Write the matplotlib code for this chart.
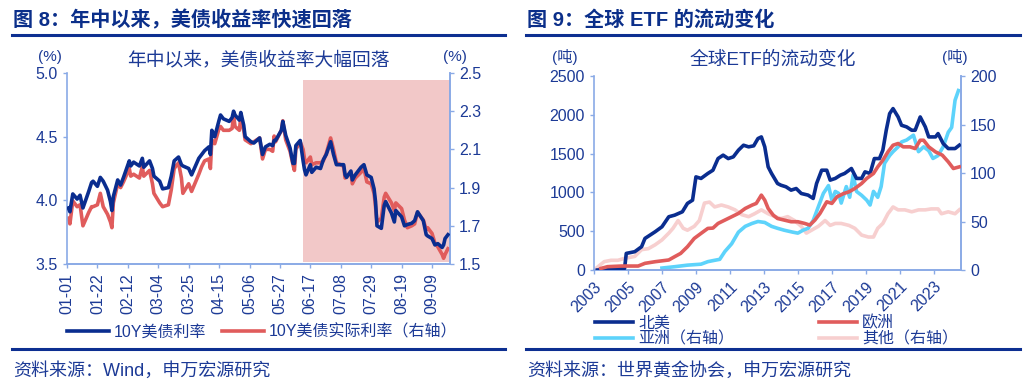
import numpy as np
import pandas as pd
import matplotlib
matplotlib.use("Agg")
import matplotlib.pyplot as plt
import matplotlib.dates as mdates

plt.rcParams['font.family'] = ['Liberation Sans', 'Noto Sans CJK SC']
plt.rcParams['axes.unicode_minus'] = False

# ---------------- data: figure 8 (2024 daily, sampled) ----------------
dates_8 = ['01-02', '01-03', '01-05', '01-08', '01-10', '01-12', '01-16', '01-18', '01-19', '01-22',
           '01-24', '01-26', '01-29', '01-31', '02-01', '02-02', '02-05', '02-07', '02-09', '02-13',
           '02-14', '02-16', '02-20', '02-22', '02-23', '02-27', '02-29', '03-01', '03-05', '03-07',
           '03-11', '03-13', '03-15', '03-18', '03-20', '03-21', '03-25', '03-27', '04-01', '04-03',
           '04-05', '04-08', '04-09', '04-10', '04-12', '04-15', '04-16', '04-18', '04-22', '04-24',
           '04-25', '04-26', '04-29', '04-30', '05-02', '05-03', '05-07', '05-09', '05-13', '05-15',
           '05-17', '05-20', '05-22', '05-23', '05-24', '05-28', '05-29', '05-31', '06-03', '06-05',
           '06-06', '06-07', '06-10', '06-12', '06-13', '06-14', '06-17', '06-18', '06-21', '06-24',
           '06-26', '06-28', '07-01', '07-03', '07-05', '07-08', '07-10', '07-11', '07-12', '07-15',
           '07-16', '07-18', '07-22', '07-24', '07-26', '07-29', '07-31', '08-01', '08-02', '08-05',
           '08-07', '08-08', '08-12', '08-14', '08-15', '08-19', '08-21', '08-23', '08-26', '08-28',
           '08-30', '09-03', '09-05', '09-06', '09-09', '09-11', '09-13', '09-16', '09-17', '09-18',
           '09-20']
ust10y = [3.94, 3.91, 4.05, 4.01, 4.04, 3.94, 4.07, 4.14, 4.15, 4.11,
          4.18, 4.15, 4.08, 3.99, 3.92, 4.03, 4.16, 4.12, 4.18, 4.31,
          4.27, 4.30, 4.27, 4.33, 4.26, 4.31, 4.25, 4.19, 4.15, 4.09,
          4.10, 4.19, 4.31, 4.34, 4.28, 4.27, 4.25, 4.20, 4.33, 4.36,
          4.39, 4.42, 4.36, 4.55, 4.50, 4.63, 4.67, 4.64, 4.62, 4.65,
          4.70, 4.67, 4.63, 4.69, 4.59, 4.50, 4.46, 4.45, 4.49, 4.36,
          4.42, 4.44, 4.43, 4.47, 4.47, 4.55, 4.62, 4.51, 4.41, 4.29,
          4.29, 4.43, 4.47, 4.31, 4.24, 4.20, 4.28, 4.22, 4.26, 4.25,
          4.32, 4.36, 4.46, 4.36, 4.28, 4.28, 4.28, 4.20, 4.18, 4.23,
          4.16, 4.20, 4.26, 4.28, 4.20, 4.18, 4.09, 3.99, 3.80, 3.78,
          3.96, 3.99, 3.90, 3.83, 3.92, 3.87, 3.80, 3.81, 3.82, 3.84,
          3.91, 3.84, 3.73, 3.72, 3.70, 3.65, 3.66, 3.63, 3.65, 3.70,
          3.73]
real10y = [1.74, 1.71, 1.83, 1.80, 1.81, 1.70, 1.77, 1.80, 1.80, 1.81,
           1.87, 1.80, 1.76, 1.72, 1.69, 1.82, 1.92, 1.90, 1.93, 2.00,
           1.96, 1.97, 1.95, 2.01, 1.96, 1.99, 1.92, 1.87, 1.82, 1.80,
           1.81, 1.89, 2.00, 2.03, 1.95, 1.87, 1.92, 1.88, 1.97, 2.01,
           2.04, 2.05, 2.00, 2.15, 2.13, 2.21, 2.22, 2.20, 2.20, 2.21,
           2.28, 2.22, 2.20, 2.27, 2.20, 2.15, 2.13, 2.14, 2.16, 2.05,
           2.10, 2.10, 2.09, 2.17, 2.14, 2.20, 2.25, 2.15, 2.09, 2.02,
           1.99, 2.10, 2.14, 2.10, 2.05, 2.03, 2.06, 2.02, 2.03, 2.03,
           2.04, 2.08, 2.16, 2.10, 2.03, 2.02, 2.01, 1.95, 1.96, 1.98,
           1.92, 1.95, 1.98, 2.00, 1.93, 1.92, 1.87, 1.80, 1.72, 1.74,
           1.85, 1.87, 1.82, 1.78, 1.82, 1.79, 1.73, 1.69, 1.70, 1.71,
           1.77, 1.73, 1.68, 1.69, 1.66, 1.61, 1.59, 1.55, 1.53, 1.55,
           1.58]
shade_start_8 = '2024-06-12'

# ---------------- data: figure 9 (tonnes) ----------------
yr_na = [2003.2, 2004.8, 2004.9, 2005.4, 2005.8, 2006.0, 2006.6, 2007.0, 2007.4, 2007.75,
         2008.2, 2008.5, 2008.8, 2009.0, 2009.3, 2009.7, 2010.0, 2010.3, 2010.6, 2010.9,
         2011.2, 2011.5, 2011.8, 2012.1, 2012.4, 2012.65, 2012.85, 2013.05, 2013.25, 2013.45,
         2013.8, 2014.0, 2014.3, 2014.6, 2014.9, 2015.2, 2015.6, 2015.9, 2016.1, 2016.4,
         2016.7, 2016.9, 2017.2, 2017.5, 2017.75, 2018.15, 2018.45, 2018.75, 2018.95, 2019.25,
         2019.5, 2019.8, 2020.0, 2020.2, 2020.4, 2020.6, 2020.9, 2021.1, 2021.4, 2021.7,
         2021.9, 2022.2, 2022.5, 2022.7, 2023.1, 2023.25, 2023.55, 2023.85, 2024.25, 2024.5]
north_america = [0, 20, 214, 236, 300, 407, 493, 557, 686, 707,
                 750, 858, 900, 1200, 1180, 1244, 1286, 1436, 1480, 1436,
                 1458, 1544, 1608, 1587, 1600, 1694, 1715, 1587, 1329, 1244,
                 1115, 1093, 1072, 1029, 1050, 986, 965, 922, 1115, 1286,
                 1286, 1158, 1180, 1222, 1244, 1308, 1180, 1180, 1265, 1244,
                 1436, 1436, 1544, 1801, 2015, 2080, 1972, 1865, 1844, 1801,
                 1801, 1972, 1844, 1715, 1715, 1758, 1630, 1565, 1565, 1608]

yr_eu = [2003.4, 2003.8, 2004.6, 2005.6, 2006.0, 2006.6, 2007.4, 2007.75, 2008.1, 2008.5,
         2008.9, 2009.3, 2009.7, 2010.0, 2010.3, 2010.7, 2011.1, 2011.5, 2011.9, 2012.3,
         2012.55, 2012.85, 2013.05, 2013.25, 2013.55, 2013.8, 2014.2, 2014.6, 2015.0, 2015.4,
         2015.7, 2016.0, 2016.3, 2016.7, 2017.0, 2017.3, 2017.7, 2018.0, 2018.35, 2018.75,
         2019.05, 2019.45, 2019.7, 2020.0, 2020.3, 2020.6, 2020.9, 2021.2, 2021.6, 2021.9,
         2022.2, 2022.4, 2022.7, 2023.1, 2023.5, 2023.85, 2024.15, 2024.5]
europe = [20, 43, 51, 51, 86, 107, 129, 172, 214, 300,
          407, 472, 536, 540, 600, 643, 686, 729, 793, 836,
          858, 965, 900, 793, 707, 664, 643, 622, 622, 600,
          579, 643, 729, 879, 858, 943, 986, 1007, 1050, 1115,
          1180, 1244, 1329, 1415, 1522, 1608, 1630, 1587, 1587, 1565,
          1672, 1672, 1587, 1522, 1480, 1394, 1308, 1329]

yr_asia = [2007.0, 2007.75, 2008.5, 2009.3, 2009.7, 2010.1, 2010.4, 2010.7, 2011.1, 2011.5,
           2011.9, 2012.3, 2012.65, 2013.05, 2013.45, 2013.8, 2014.2, 2014.7, 2015.0, 2015.3,
           2015.6, 2015.9, 2016.2, 2016.5, 2016.8, 2017.0, 2017.2, 2017.4, 2017.55, 2017.85,
           2018.05, 2018.25, 2018.45, 2018.75, 2019.05, 2019.25, 2019.45, 2019.7, 2019.9, 2020.1,
           2020.4, 2020.6, 2020.9, 2021.1, 2021.4, 2021.8, 2022.1, 2022.4, 2022.7, 2022.95,
           2023.25, 2023.55, 2023.85, 2024.05, 2024.25, 2024.45]
asia = [2, 3.4, 5, 6, 8.6, 10, 11, 19, 27, 39,
        45, 48, 50, 49, 45, 43, 41, 39, 38, 41,
        43, 51, 65, 79, 87, 72, 81, 79, 69, 86,
        75, 98, 81, 77, 72, 67, 81, 75, 86, 110,
        118, 122, 127, 132, 134, 139, 122, 127, 123, 115,
        118, 127, 142, 147, 175, 185]

yr_other = [2003.0, 2003.6, 2004.0, 2004.4, 2004.8, 2005.4, 2005.8, 2006.2, 2006.6, 2007.0,
            2007.4, 2007.65, 2007.95, 2008.25, 2008.5, 2008.9, 2009.2, 2009.5, 2009.8, 2010.1,
            2010.5, 2010.9, 2011.3, 2011.7, 2012.1, 2012.45, 2012.85, 2013.25, 2013.65, 2014.0,
            2014.4, 2014.8, 2015.2, 2015.5, 2015.8, 2016.2, 2016.6, 2016.9, 2017.2, 2017.55,
            2018.0, 2018.35, 2018.75, 2019.15, 2019.45, 2019.7, 2020.0, 2020.3, 2020.6, 2020.9,
            2021.3, 2021.7, 2022.1, 2022.5, 2022.85, 2023.25, 2023.45, 2023.85, 2024.25, 2024.5]
other = [0, 8.6, 10, 10, 12, 14, 21, 22, 26, 31,
         38, 43, 51, 43, 41, 45, 51, 69, 70, 65,
         67, 65, 62, 57, 55, 58, 62, 58, 55, 53,
         55, 51, 45, 38, 41, 45, 51, 46, 48, 48,
         46, 43, 36, 34, 34, 43, 48, 58, 65, 62,
         62, 60, 62, 62, 63, 63, 58, 60, 58, 62]

# ---------------- style ----------------
NAVY = '#0a2d8f'
RED = '#e05c5c'
LBLUE = '#5dd3fb'
PINK = '#f7cfcf'
SHADE = '#f2c8c8'
SPINE = '#8aaae6'
TXT = '#1c3a96'
W, H = 1030, 392

fig = plt.figure(figsize=(W / 100, H / 100), dpi=100)


def px_axes(x0, y0, x1, y1):
    return fig.add_axes([x0 / W, 1 - y1 / H, (x1 - x0) / W, (y1 - y0) / H])


def style(ax, ax2):
    for a in (ax, ax2):
        a.spines['top'].set_visible(False)
        for s in ('left', 'right', 'bottom'):
            a.spines[s].set_color(SPINE)
            a.spines[s].set_linewidth(1.2)
        a.tick_params(colors=SPINE, labelcolor=TXT, labelsize=11.5, length=3, width=1.0)
    ax2.spines['left'].set_visible(False)


def fig_px(x, y):
    return x / W, 1 - y / H


# header / footer rules and texts
for x0, x1, title, src in [(12, 505, '图 8：年中以来，美债收益率快速回落', '资料来源：Wind，申万宏源研究'),
                           (526, 1020, '图 9：全球 ETF 的流动变化', '资料来源：世界黄金协会，申万宏源研究')]:
    fig.add_artist(plt.Line2D([x0 / W, x1 / W], [1 - 35 / H] * 2, color='#0d2f91', lw=2.2))
    fig.add_artist(plt.Line2D([x0 / W, x1 / W], [1 - 349 / H] * 2, color='#0d2f91', lw=2.2))
    fig.text(*fig_px(x0 + 1, 20), title, fontsize=14.5, fontweight='bold', color='#0b2f8a', va='center')
    fig.text(*fig_px(x0 + 1, 371), src, fontsize=13, color=TXT, va='center')

# ---------------- figure 8 ----------------
ax = px_axes(67, 73, 450, 264)
ax2 = ax.twinx()
d8 = pd.to_datetime(['2024-' + d for d in dates_8])
ax2.axvspan(pd.Timestamp(shade_start_8), pd.Timestamp('2024-09-22'), ymin=0.01, ymax=0.963,
            color=SHADE, lw=0, zorder=0)
l1, = ax.plot(d8, ust10y, color=NAVY, lw=2.6, label='10Y美债利率', zorder=3)
l2, = ax2.plot(d8, real10y, color=RED, lw=2.6, label='10Y美债实际利率（右轴）', zorder=4)
ax.set_zorder(ax2.get_zorder() + 1)
ax.patch.set_visible(False)
ax.set_ylim(3.5, 5.0)
ax.set_yticks([3.5, 4.0, 4.5, 5.0])
ax.yaxis.set_major_formatter(matplotlib.ticker.FormatStrFormatter('%.1f'))
ax2.set_ylim(1.5, 2.5)
ax2.set_yticks([1.5, 1.7, 1.9, 2.1, 2.3, 2.5])
ax2.yaxis.set_major_formatter(matplotlib.ticker.FormatStrFormatter('%.1f'))
ax.set_xlim(pd.Timestamp('2024-01-01'), pd.Timestamp('2024-09-21 10:00'))
ax.set_xticks(pd.date_range('2024-01-01', periods=13, freq='21D'))
ax.xaxis.set_major_formatter(mdates.DateFormatter('%m-%d'))
plt.setp(ax.get_xticklabels(), rotation=90)
style(ax, ax2)
fig.text(*fig_px(50, 57), '(%)', fontsize=11, color=TXT, ha='center', va='center')
fig.text(*fig_px(455, 57), '(%)', fontsize=11, color=TXT, ha='center', va='center')
fig.text(*fig_px(258, 60), '年中以来，美债收益率大幅回落', fontsize=13.5, color=TXT, ha='center', va='center')
fig.legend(handles=[l1, l2], loc='center', bbox_to_anchor=fig_px(262, 332), ncol=2, frameon=False,
           fontsize=11.5, handlelength=2.6, handletextpad=0.3, columnspacing=1.0, labelcolor=TXT,
           borderpad=0, borderaxespad=0)

# ---------------- figure 9 ----------------
bx = px_axes(594, 76, 961, 270)
bx2 = bx.twinx()
m1, = bx.plot(yr_na, north_america, color=NAVY, lw=2.6, label='北美', zorder=3)
m3, = bx.plot(yr_eu, europe, color=RED, lw=2.6, label='欧洲', zorder=3)
m2, = bx2.plot(yr_asia, asia, color=LBLUE, lw=2.6, label='亚洲（右轴）', zorder=2)
m4, = bx2.plot(yr_other, other, color=PINK, lw=2.6, label='其他（右轴）', zorder=1)
bx2.set_zorder(bx.get_zorder() - 1)
bx.patch.set_visible(False)
bx.set_ylim(0, 2500)
bx.set_yticks(range(0, 2501, 500))
bx2.set_ylim(0, 200)
bx2.set_yticks(range(0, 201, 50))
bx.set_xlim(2003, 2024.6)
bx.set_xticks(range(2003, 2024, 2))
plt.setp(bx.get_xticklabels(), rotation=45, ha='right', rotation_mode='anchor')
style(bx, bx2)
fig.text(*fig_px(565, 57), '(吨)', fontsize=11, color=TXT, ha='center', va='center')
fig.text(*fig_px(955, 57), '(吨)', fontsize=11, color=TXT, ha='center', va='center')
fig.text(*fig_px(773, 60), '全球ETF的流动变化', fontsize=13.5, color=TXT, ha='center', va='center')
fig.legend(handles=[m1, m2, m3, m4], loc='upper left', bbox_to_anchor=fig_px(595, 315), ncol=2,
           frameon=False, fontsize=11.5, handlelength=2.4, handletextpad=0.3, columnspacing=5.3,
           labelspacing=0.05, labelcolor=TXT, borderpad=0, borderaxespad=0)

fig.savefig('out.png', dpi=100)
